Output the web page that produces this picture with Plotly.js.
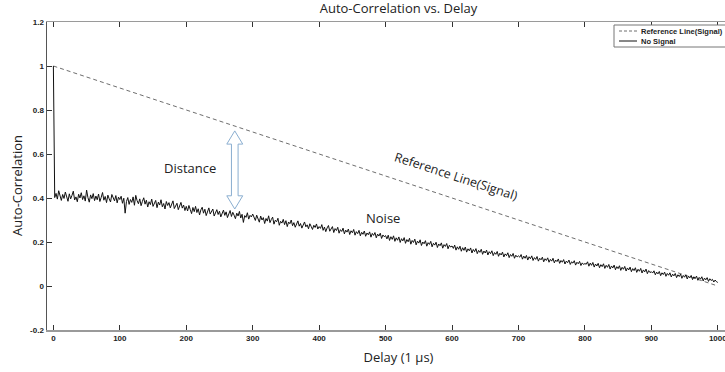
<!DOCTYPE html>
<html>
<head>
<meta charset="utf-8">
<script src="https://cdn.plot.ly/plotly-3.0.1.min.js"></script>
<style>
html,body{margin:0;padding:0;width:725px;height:372px;overflow:hidden;background:#fff;}
#chart{width:750px;height:372px;}
</style>
</head>
<body>
<div id="chart"></div>
<script>
// Reference line (signal): straight line from (0,1) to (1000,0)
var refDelay = [0, 1000];
var refValues = [1.0, 0.0];

// "No Signal" (noise) auto-correlation: initial spike, then samples every 2 µs
var noiseStartDelay = [0, 1];
var noiseStartValues = [1.0, 0.405];
var noiseStep = 2;
var noiseValues = [
  0.402,0.421,0.395,0.433,0.408,0.389,0.416,0.398,0.427,0.404,0.385,0.419,0.396,0.412,0.431,0.391,0.405,0.383,0.417,0.400,
  0.424,0.393,0.410,0.386,0.436,0.402,0.381,0.414,0.397,0.420,0.388,0.409,0.392,0.418,0.384,0.403,0.425,0.390,0.407,0.379,
  0.413,0.396,0.382,0.416,0.399,0.387,0.411,0.378,0.404,0.393,
  0.408,0.376,0.399,0.331,0.384,0.402,0.371,0.393,0.380,0.405,0.367,0.412,0.388,0.374,0.396,0.365,0.385,0.401,0.372,0.390,
  0.359,0.383,0.370,0.395,0.362,0.378,0.389,0.356,0.381,0.368,0.392,0.360,0.375,0.350,0.384,0.366,0.379,0.355,0.371,0.387,
  0.352,0.369,0.376,0.347,0.363,0.380,0.354,0.368,0.343,0.362,
  0.341,0.366,0.348,0.329,0.357,0.338,0.362,0.334,0.351,0.323,0.346,0.358,0.331,0.349,0.320,0.342,0.355,0.327,0.338,0.350,
  0.318,0.336,0.347,0.325,0.340,0.314,0.332,0.345,0.321,0.337,0.311,0.329,0.343,0.316,0.335,0.322,0.306,0.331,0.318,0.339,
  0.309,0.326,0.289,0.320,0.312,0.333,0.304,0.321,0.314,0.327,
  0.315,0.298,0.322,0.305,0.290,0.318,0.300,0.311,0.284,0.307,0.295,0.319,0.288,0.302,0.313,0.281,0.299,0.292,0.308,0.276,
  0.294,0.286,0.303,0.279,0.297,0.270,0.291,0.283,0.300,0.274,0.288,0.267,0.285,0.296,0.272,0.284,0.263,0.280,0.291,0.269,
  0.278,0.260,0.283,0.271,0.257,0.276,0.266,0.282,0.259,0.270,
  0.262,0.279,0.253,0.268,0.247,0.264,0.275,0.249,0.258,0.270,0.243,0.261,0.252,0.267,0.240,0.256,0.248,0.263,0.237,0.254,
  0.245,0.259,0.234,0.251,0.242,0.257,0.231,0.247,0.238,0.253,0.228,0.244,0.235,0.250,0.226,0.241,0.233,0.246,0.222,0.239,
  0.230,0.243,0.219,0.236,0.227,0.240,0.216,0.232,0.224,0.229,
  0.214,0.231,0.207,0.224,0.212,0.228,0.203,0.219,0.208,0.223,0.198,0.215,0.205,0.220,0.194,0.211,0.201,0.217,0.190,0.207,
  0.198,0.213,0.187,0.204,0.195,0.210,0.184,0.200,0.192,0.206,0.181,0.197,0.189,0.203,0.178,0.194,0.186,0.199,0.175,0.191,
  0.183,0.196,0.172,0.188,0.180,0.193,0.169,0.185,0.177,0.182,
  0.171,0.186,0.163,0.178,0.167,0.181,0.158,0.174,0.162,0.177,0.154,0.169,0.160,0.173,0.150,0.166,0.156,0.170,0.147,0.162,
  0.153,0.167,0.144,0.159,0.150,0.163,0.141,0.156,0.147,0.160,0.138,0.152,0.144,0.157,0.135,0.149,0.141,0.154,0.132,0.146,
  0.138,0.151,0.129,0.143,0.135,0.148,0.126,0.140,0.132,0.137,
  0.131,0.143,0.122,0.136,0.126,0.139,0.118,0.133,0.124,0.137,0.116,0.129,0.121,0.134,0.113,0.126,0.119,0.131,0.110,0.124,
  0.116,0.128,0.108,0.121,0.113,0.126,0.105,0.118,0.111,0.123,0.103,0.116,0.108,0.120,0.100,0.113,0.106,0.118,0.098,0.110,
  0.104,0.115,0.095,0.108,0.101,0.112,0.093,0.105,0.098,0.102,
  0.099,0.110,0.090,0.104,0.094,0.107,0.086,0.100,0.091,0.103,0.083,0.097,0.088,0.101,0.080,0.094,0.085,0.098,0.077,0.091,
  0.082,0.095,0.074,0.088,0.079,0.092,0.071,0.085,0.076,0.089,0.068,0.082,0.073,0.086,0.065,0.079,0.070,0.083,0.062,0.076,
  0.067,0.080,0.059,0.073,0.064,0.077,0.056,0.070,0.061,0.065,
  0.059,0.069,0.051,0.063,0.055,0.066,0.047,0.060,0.052,0.063,0.044,0.057,0.049,0.060,0.041,0.054,0.046,0.057,0.038,0.051,
  0.043,0.054,0.035,0.048,0.040,0.051,0.032,0.045,0.037,0.048,0.029,0.042,0.034,0.045,0.026,0.039,0.031,0.042,0.023,0.036,
  0.028,0.038,0.021,0.033,0.025,0.030,0.018,0.027,0.020,0.016
];

var xTickVals = [0,100,200,300,400,500,600,700,800,900,1000];
var xTickText = ["0","100","200","300","400","500","600","700","800","900","1000"];
var yTickVals = [-0.2,0,0.2,0.4,0.6,0.8,1.0,1.2];
var yTickText = ["-0.2","0","0.2","0.4","0.6","0.8","1","1.2"];
var legendNames = ['Reference Line(Signal)', 'No Signal'];

var noiseX = noiseStartDelay.slice();
var noiseY = noiseStartValues.slice();
for (var i = 0; i < noiseValues.length; i++) {
  noiseX.push((i + 1) * noiseStep);
  noiseY.push(noiseValues[i]);
}

var refColor = '#6e6e6e', refDash = '4px,3px';
var noiseColor = '#111';

var textFont = {family: '"Open Sans", sans-serif', size: 13, color: '#222'};
var tickFont = {family: '"Liberation Sans", Arial, sans-serif', size: 8, color: '#222', weight: 'bold'};
var legFont = {family: '"Liberation Sans", Arial, sans-serif', size: 7.5, color: '#222', weight: 'bold'};

var traces = [
  {x: refDelay, y: refValues, mode: 'lines', name: legendNames[0],
   line: {color: refColor, width: 1, dash: refDash}},
  {x: noiseX, y: noiseY, mode: 'lines', name: legendNames[1],
   line: {color: noiseColor, width: 1}}
];

var axisCommon = {
  showgrid: false, zeroline: false, showline: true, linewidth: 1.5,
  ticks: 'inside', ticklen: 5, tickwidth: 1, tickcolor: '#333',
  mirror: 'ticks', tickfont: tickFont, tickmode: 'array'
};

// pixel -> paper helpers for the hand-made legend box
function px(xp) { return (xp - 47) / 703; }
function py(yp) { return 1 - (yp - 22) / 308; }

var layout = {
  width: 750, height: 372,
  margin: {l: 47, r: 0, t: 22, b: 42},
  paper_bgcolor: '#fff', plot_bgcolor: '#fff',
  title: {text: 'Auto-Correlation vs. Delay', font: textFont, x: 0.5, xref: 'paper',
          y: 0.976, yref: 'container', yanchor: 'middle'},
  xaxis: Object.assign({}, axisCommon, {
    range: [-9.6, 1048.5], tickvals: xTickVals, ticktext: xTickText, linecolor: '#9a9a9a',
    title: {text: 'Delay (1 µs)', font: textFont, standoff: 11}
  }),
  yaxis: Object.assign({}, axisCommon, {
    range: [-0.2, 1.2], tickvals: yTickVals, ticktext: yTickText, linecolor: '#555'
  }),
  showlegend: false,
  shapes: [
    {type: 'path', xref: 'x', yref: 'y',
     path: 'M 273 0.705 L 285 0.645 L 278 0.645 L 278 0.41 L 285 0.41 L 273 0.35 L 261 0.41 L 268 0.41 L 268 0.645 L 261 0.645 Z',
     line: {color: '#8aaed0', width: 1}, fillcolor: '#fff'},
    {type: 'rect', xref: 'paper', yref: 'paper', x0: px(614), x1: 1.0, y0: py(47), y1: py(25),
     line: {color: '#777', width: 1}, fillcolor: '#fff'},
    {type: 'line', xref: 'paper', yref: 'paper', x0: px(619), x1: px(637), y0: py(31), y1: py(31),
     line: {color: refColor, width: 1, dash: '3px,2px'}},
    {type: 'line', xref: 'paper', yref: 'paper', x0: px(619), x1: px(637), y0: py(41), y1: py(41),
     line: {color: noiseColor, width: 1}}
  ],
  annotations: [
    {x: px(17), y: py(186), xref: 'paper', yref: 'paper', xanchor: 'center', yanchor: 'middle',
     text: 'Auto-Correlation', showarrow: false, textangle: -90, font: textFont},
    {x: px(639), y: py(31), xref: 'paper', yref: 'paper', xanchor: 'left', yanchor: 'middle',
     text: legendNames[0], showarrow: false, font: legFont},
    {x: px(639), y: py(41), xref: 'paper', yref: 'paper', xanchor: 'left', yanchor: 'middle',
     text: legendNames[1], showarrow: false, font: legFont},
    {x: 206, y: 0.536, xref: 'x', yref: 'y', text: 'Distance', showarrow: false, font: textFont},
    {x: 607, y: 0.50, xref: 'x', yref: 'y', text: 'Reference Line(Signal)', showarrow: false,
     textangle: 18, font: {family: '"Open Sans", sans-serif', size: 12.5, color: '#222'}},
    {x: 496, y: 0.309, xref: 'x', yref: 'y', text: 'Noise', showarrow: false, font: textFont}
  ]
};

Plotly.newPlot('chart', traces, layout, {displayModeBar: false, staticPlot: true});
</script>
</body>
</html>
